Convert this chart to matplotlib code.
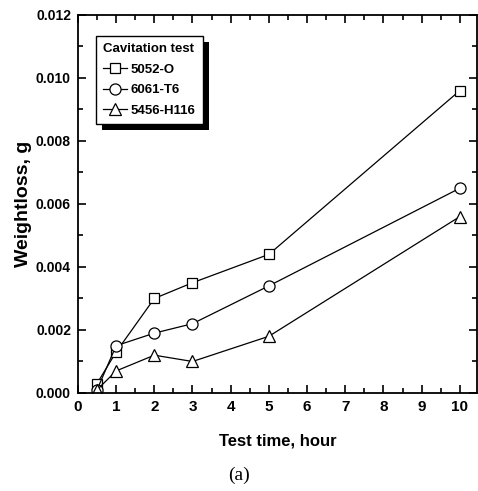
import matplotlib
matplotlib.use("Agg")
import matplotlib.pyplot as plt
from matplotlib.patches import Rectangle
from matplotlib.ticker import MultipleLocator

# data
hours = [0.5, 1, 2, 3, 5, 10]
w_5052 = [0.0003, 0.0013, 0.0030, 0.0035, 0.0044, 0.0096]
w_6061 = [0.0001, 0.0015, 0.0019, 0.0022, 0.0034, 0.0065]
w_5456 = [0.0001, 0.0007, 0.0012, 0.0010, 0.0018, 0.0056]
labels = ["5052-O", "6061-T6", "5456-H116"]
markers = ["s", "o", "^"]

plt.rcParams["font.family"] = ["Liberation Sans", "DejaVu Sans"]
plt.rcParams["font.weight"] = "bold"

fig = plt.figure(figsize=(4.78, 4.91), dpi=100)
ax = fig.add_axes([0.163, 0.1996, 0.835, 0.77])

for y, lab, m in zip([w_5052, w_6061, w_5456], labels, markers):
    ax.plot(hours, y, color="black", lw=0.9, marker=m, ms=8 if m != "s" else 7.5,
            mfc="white", mec="black", mew=0.9, label=lab)

ax.set_xlim(0, 10.45)
ax.set_ylim(0, 0.012)
ax.xaxis.set_major_locator(MultipleLocator(1))
ax.xaxis.set_minor_locator(MultipleLocator(0.5))
ax.yaxis.set_major_locator(MultipleLocator(0.002))
ax.yaxis.set_minor_locator(MultipleLocator(0.001))
ax.yaxis.set_major_formatter(plt.FormatStrFormatter("%.3f"))
ax.tick_params(which="both", direction="in", top=True, right=True, width=1.2)
ax.tick_params(which="major", length=6, pad=5)
ax.tick_params(axis="x", labelsize=11)
ax.tick_params(axis="y", labelsize=10)
ax.tick_params(which="minor", length=3.5)
for s in ax.spines.values():
    s.set_linewidth(1.3)

ax.set_xlabel("Test time, hour", fontsize=12, fontweight="bold", labelpad=14)
ax.set_ylabel("Weightloss, g", fontsize=14, fontweight="bold", labelpad=3)

leg = ax.legend(title="Cavitation test", loc="upper left", bbox_to_anchor=(0.045, 0.944),
                borderaxespad=0, fancybox=False, edgecolor="black", framealpha=1,
                prop={"weight": "bold", "size": 9.5},
                title_fontproperties={"weight": "bold", "size": 9.5},
                handlelength=1.8, handletextpad=0.3, borderpad=0.55, labelspacing=0.62)
leg._legend_box.align = "left"
leg.get_frame().set_linewidth(1.0)
leg.set_zorder(5)

fig.text(0.5, 0.022, "(a)", ha="center", fontsize=14, fontweight="normal",
         family="Liberation Serif")

# black drop shadow behind the legend box
fig.canvas.draw()
bb = leg.get_window_extent()
shadow = Rectangle((bb.x0 + 6, bb.y0 - 6), bb.width, bb.height, transform=None,
                   facecolor="black", edgecolor="none", zorder=4, clip_on=False)
ax.add_artist(shadow)

fig.savefig("out.png", dpi=100)
